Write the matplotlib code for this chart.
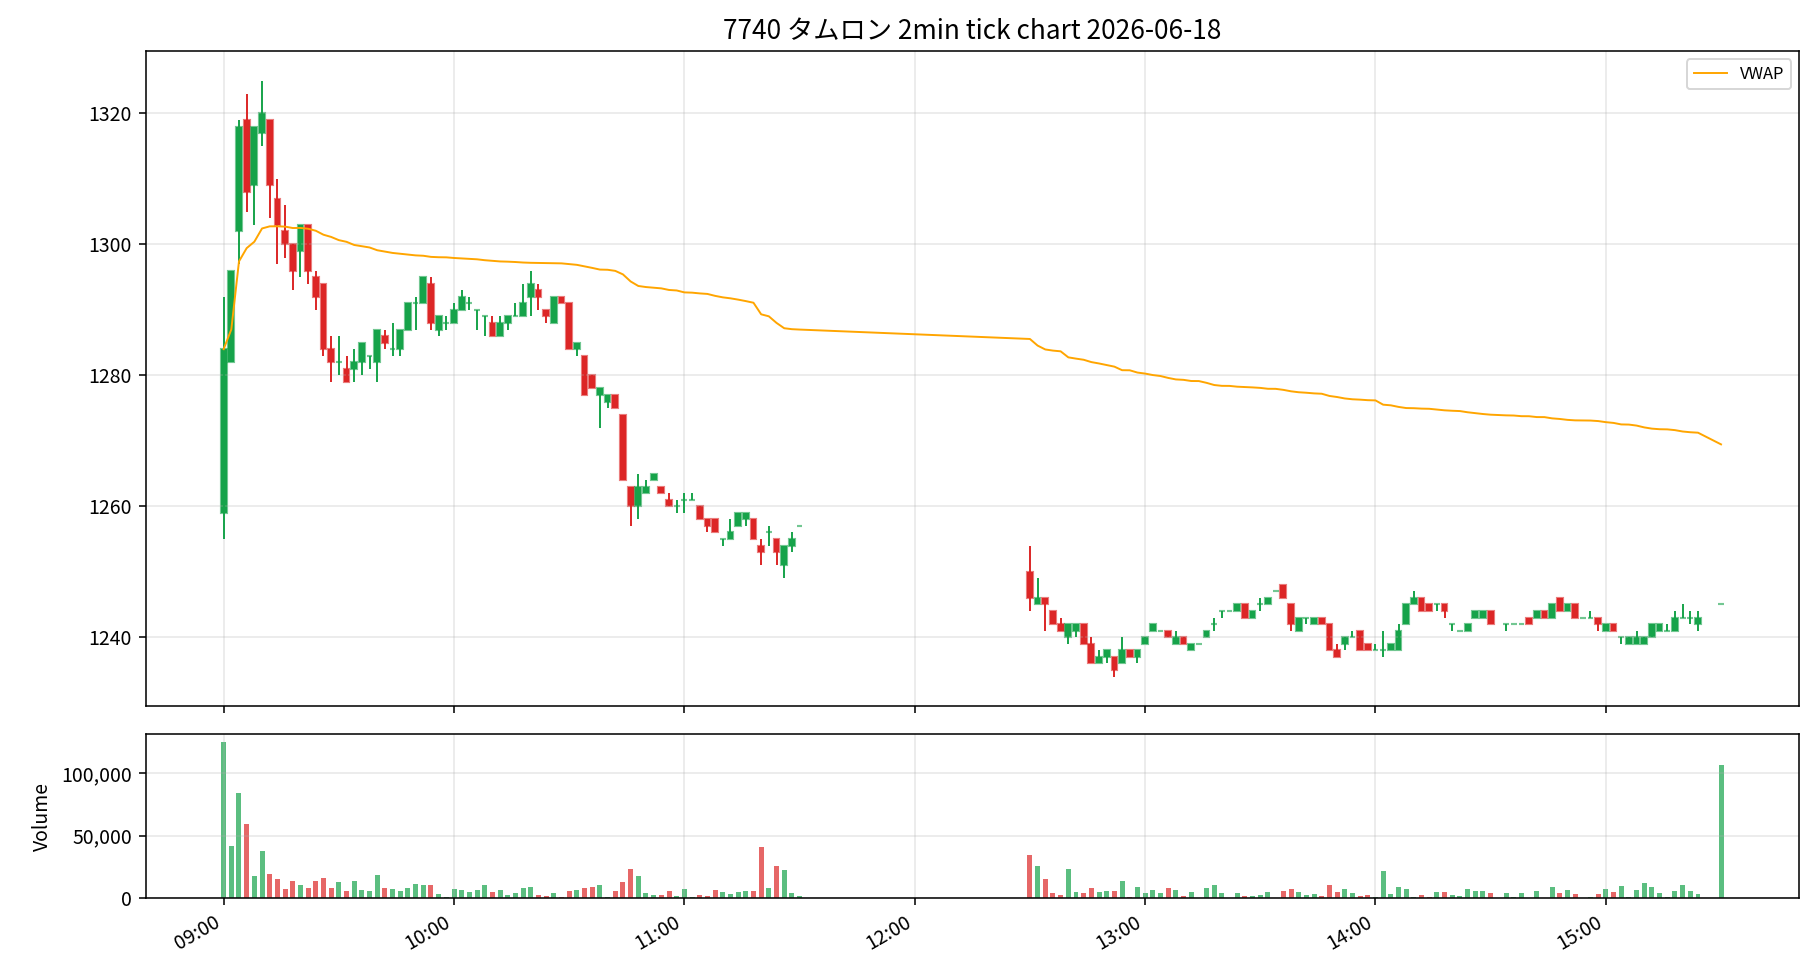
import numpy as np
import pandas as pd
import matplotlib
matplotlib.use("Agg")
import matplotlib.pyplot as plt
import matplotlib.dates as mdates
from matplotlib.ticker import FuncFormatter, MultipleLocator

plt.rcParams['font.family'] = ['Noto Sans CJK JP', 'DejaVu Sans']

title = "7740 タムロン 2min tick chart 2026-06-18"

# 2分足の時刻 (約定の無かった足は除く)
am = pd.date_range("2026-06-18 09:00", "2026-06-18 11:30", freq="2min")
pm = pd.date_range("2026-06-18 12:30", "2026-06-18 15:30", freq="2min")
no_trade = ["2026-06-18 14:32", "2026-06-18 15:26", "2026-06-18 15:28"]
times = am.append(pm).drop(pd.to_datetime(no_trade))

# 前場 09:00-11:30
am_open  = [1259, 1282, 1302, 1319, 1309, 1317, 1319, 1307, 1302, 1300, 1299, 1303, 1295, 1294, 1284, 1282,
            1281, 1281, 1282, 1283, 1282, 1286, 1284, 1284, 1287, 1291, 1291, 1294, 1287, 1288, 1288, 1290,
            1291, 1290, 1289, 1288, 1286, 1288, 1289, 1289, 1292, 1293, 1290, 1288, 1292, 1291, 1284, 1283,
            1280, 1277, 1276, 1277, 1274, 1263, 1260, 1262, 1264, 1263, 1261, 1260, 1261, 1261, 1260, 1258,
            1258, 1255, 1255, 1257, 1258, 1258, 1254, 1256, 1255, 1251, 1254, 1257]
am_high  = [1292, 1296, 1319, 1323, 1318, 1325, 1319, 1310, 1306, 1300, 1303, 1303, 1296, 1294, 1286, 1286,
            1283, 1284, 1285, 1283, 1287, 1287, 1288, 1287, 1291, 1292, 1295, 1295, 1289, 1289, 1291, 1293,
            1292, 1290, 1289, 1289, 1289, 1289, 1291, 1294, 1296, 1294, 1290, 1292, 1292, 1291, 1285, 1283,
            1280, 1278, 1277, 1277, 1274, 1263, 1265, 1264, 1265, 1263, 1262, 1261, 1262, 1262, 1260, 1258,
            1258, 1255, 1258, 1259, 1259, 1258, 1255, 1257, 1255, 1254, 1256, 1257]
am_low   = [1255, 1282, 1297, 1305, 1303, 1315, 1304, 1297, 1298, 1293, 1295, 1294, 1290, 1283, 1279, 1280,
            1279, 1279, 1280, 1281, 1279, 1284, 1283, 1283, 1287, 1287, 1291, 1287, 1286, 1287, 1288, 1290,
            1290, 1287, 1286, 1286, 1286, 1287, 1289, 1289, 1289, 1290, 1288, 1288, 1291, 1284, 1283, 1277,
            1278, 1272, 1275, 1275, 1264, 1257, 1258, 1262, 1264, 1262, 1260, 1259, 1259, 1261, 1258, 1256,
            1256, 1254, 1255, 1257, 1257, 1255, 1251, 1254, 1251, 1249, 1253, 1257]
am_close = [1284, 1296, 1318, 1308, 1318, 1320, 1309, 1303, 1300, 1296, 1303, 1296, 1292, 1284, 1282, 1282,
            1279, 1282, 1285, 1283, 1287, 1285, 1284, 1287, 1291, 1291, 1295, 1288, 1289, 1288, 1290, 1292,
            1291, 1290, 1289, 1286, 1288, 1289, 1289, 1291, 1294, 1292, 1289, 1292, 1291, 1284, 1285, 1277,
            1278, 1278, 1277, 1275, 1264, 1260, 1263, 1263, 1265, 1262, 1260, 1260, 1261, 1261, 1258, 1257,
            1256, 1255, 1256, 1259, 1259, 1255, 1253, 1256, 1253, 1254, 1255, 1257]
am_vol   = [125000, 42000, 84300, 59300, 17300, 37800, 18900, 14900, 7450, 13300, 10100, 8250, 13300, 15700,
            8250, 12500, 5850, 13300, 6650, 5850, 18100, 8250, 7450, 5850, 8250, 10900, 10100, 10100, 3460,
            1060, 7450, 6650, 5050, 6650, 10100, 5050, 6650, 2660, 4260, 8250, 9050, 2660, 1860, 4260, 1060,
            5850, 6650, 8250, 9050, 10100, 1060, 5850, 12500, 23400, 17300, 4260, 2660, 2660, 5850, 1860,
            7450, 1060, 2660, 1860, 6650, 5050, 3460, 5050, 5850, 5850, 41200, 8250, 25800, 22600, 4260, 1860]

# 後場 12:30-15:30
pm_open  = [1250, 1245, 1246, 1244, 1242, 1240, 1241, 1242, 1239, 1236, 1237, 1237, 1236, 1238, 1237, 1239,
            1241, 1241, 1241, 1239, 1240, 1238, 1239, 1240, 1242, 1244, 1244, 1244, 1245, 1243, 1245, 1245,
            1247, 1248, 1245, 1241, 1243, 1242, 1243, 1242, 1238, 1239, 1240, 1241, 1239, 1238, 1238, 1238,
            1238, 1242, 1245, 1246, 1245, 1245, 1245, 1242, 1241, 1241, 1243, 1243, 1244,
            1242, 1242, 1242, 1243, 1243, 1244, 1243, 1246, 1244, 1245, 1243, 1243, 1243, 1241, 1242, 1240,
            1239, 1239, 1239, 1240, 1241, 1241, 1241, 1243, 1243, 1242, 1245]
pm_high  = [1254, 1249, 1246, 1244, 1243, 1242, 1242, 1242, 1240, 1238, 1238, 1237, 1240, 1238, 1238, 1240,
            1242, 1241, 1241, 1241, 1240, 1239, 1239, 1241, 1243, 1244, 1244, 1245, 1245, 1244, 1246, 1246,
            1247, 1248, 1245, 1243, 1243, 1243, 1243, 1242, 1239, 1240, 1241, 1241, 1239, 1239, 1241, 1239,
            1242, 1245, 1247, 1246, 1245, 1245, 1245, 1242, 1241, 1242, 1244, 1244, 1244,
            1242, 1242, 1242, 1243, 1244, 1244, 1245, 1246, 1245, 1245, 1243, 1244, 1243, 1242, 1242, 1240,
            1240, 1241, 1240, 1242, 1242, 1242, 1244, 1245, 1244, 1244, 1245]
pm_low   = [1244, 1245, 1241, 1242, 1241, 1239, 1240, 1239, 1236, 1236, 1236, 1234, 1236, 1237, 1236, 1239,
            1241, 1241, 1240, 1239, 1239, 1238, 1239, 1240, 1241, 1243, 1244, 1244, 1243, 1243, 1244, 1245,
            1247, 1246, 1241, 1241, 1242, 1242, 1242, 1238, 1237, 1238, 1240, 1238, 1238, 1238, 1237, 1238,
            1238, 1242, 1245, 1244, 1244, 1244, 1243, 1241, 1241, 1241, 1243, 1243, 1242,
            1241, 1242, 1242, 1242, 1243, 1243, 1243, 1244, 1244, 1243, 1243, 1243, 1241, 1241, 1241, 1239,
            1239, 1239, 1239, 1240, 1241, 1241, 1241, 1243, 1242, 1241, 1245]
pm_close = [1246, 1246, 1245, 1242, 1241, 1242, 1242, 1239, 1236, 1237, 1238, 1235, 1238, 1237, 1238, 1240,
            1242, 1241, 1240, 1240, 1239, 1239, 1239, 1241, 1242, 1244, 1244, 1245, 1243, 1244, 1245, 1246,
            1247, 1246, 1242, 1243, 1243, 1243, 1242, 1238, 1237, 1240, 1240, 1238, 1238, 1238, 1238, 1239,
            1241, 1245, 1246, 1244, 1244, 1245, 1244, 1242, 1241, 1242, 1244, 1244, 1242,
            1242, 1242, 1242, 1242, 1244, 1243, 1245, 1244, 1245, 1243, 1243, 1243, 1242, 1242, 1241, 1240,
            1240, 1240, 1240, 1242, 1242, 1241, 1243, 1243, 1243, 1243, 1245]
pm_vol   = [34600, 25800, 15400, 4260, 2660, 23400, 5050, 4260, 8250, 5050, 5850, 5850, 13800, 400, 9050,
            4260, 6650, 4260, 8250, 6650, 1860, 5050, 300, 8250, 10600, 4260, 300, 4260, 1860, 1860, 2660,
            5050, 300, 5850, 7450, 5050, 2660, 3460, 1860, 10600, 5050, 7450, 4260, 1860, 2660, 1060, 21800,
            3460, 9050, 7450, 1060, 2660, 1060, 5050, 5050, 2660, 1860, 7450, 5850, 5850, 4260,
            4260, 1060, 4260, 300, 5850, 300, 9050, 4260, 6650, 3460, 300, 1060, 3460, 7450, 5050, 9850,
            1060, 6650, 12200, 9050, 4260, 1060, 5850, 10600, 5850, 3460, 106700]

opens = np.array(am_open + pm_open, dtype=float)
highs = np.array(am_high + pm_high, dtype=float)
lows = np.array(am_low + pm_low, dtype=float)
closes = np.array(am_close + pm_close, dtype=float)
volumes = np.array(am_vol + pm_vol, dtype=float)

# VWAP (終値ベース)
vwap = np.cumsum(closes * volumes) / np.cumsum(volumes)

GREEN = "#16a34a"
RED = "#dc2626"

x = mdates.date2num(times.to_pydatetime())
up = closes >= opens
colors = np.where(up, GREEN, RED)
edge = [matplotlib.colors.to_rgba(c, 0.6) for c in colors]
bar_w = 2 / 1440

fig, (ax1, ax2) = plt.subplots(2, 1, figsize=(13, 7), dpi=140, sharex=True,
                               gridspec_kw={"height_ratios": [4, 1]})

ax1.vlines(x, lows, highs, colors=colors, linewidth=1)
ax1.bar(x, closes - opens, width=bar_w * 0.75, bottom=opens, color=colors,
        edgecolor=edge, linewidth=1.1)
ax1.plot(x, vwap, color="orange", linewidth=1, label="VWAP")
ax1.set_title(title, fontsize=13.5)
ax1.yaxis.set_major_locator(MultipleLocator(20))
ax1.grid(True, alpha=0.3)
ax1.legend(loc="upper right", fontsize=8.5)

ax2.bar(x, volumes, width=bar_w * 0.65, color=colors, alpha=0.7)
ax2.set_ylabel("Volume")
ax2.yaxis.set_major_locator(MultipleLocator(50000))
ax2.yaxis.set_major_formatter(FuncFormatter(lambda v, p: f"{int(v):,}"))
ax2.grid(True, alpha=0.3)

ax2.xaxis.set_major_locator(mdates.HourLocator())
ax2.xaxis.set_major_formatter(mdates.DateFormatter("%H:%M"))
fig.autofmt_xdate()

fig.subplots_adjust(left=0.080, right=0.9885, top=0.948, bottom=0.0837, hspace=0.068)
plt.savefig("out.png")
